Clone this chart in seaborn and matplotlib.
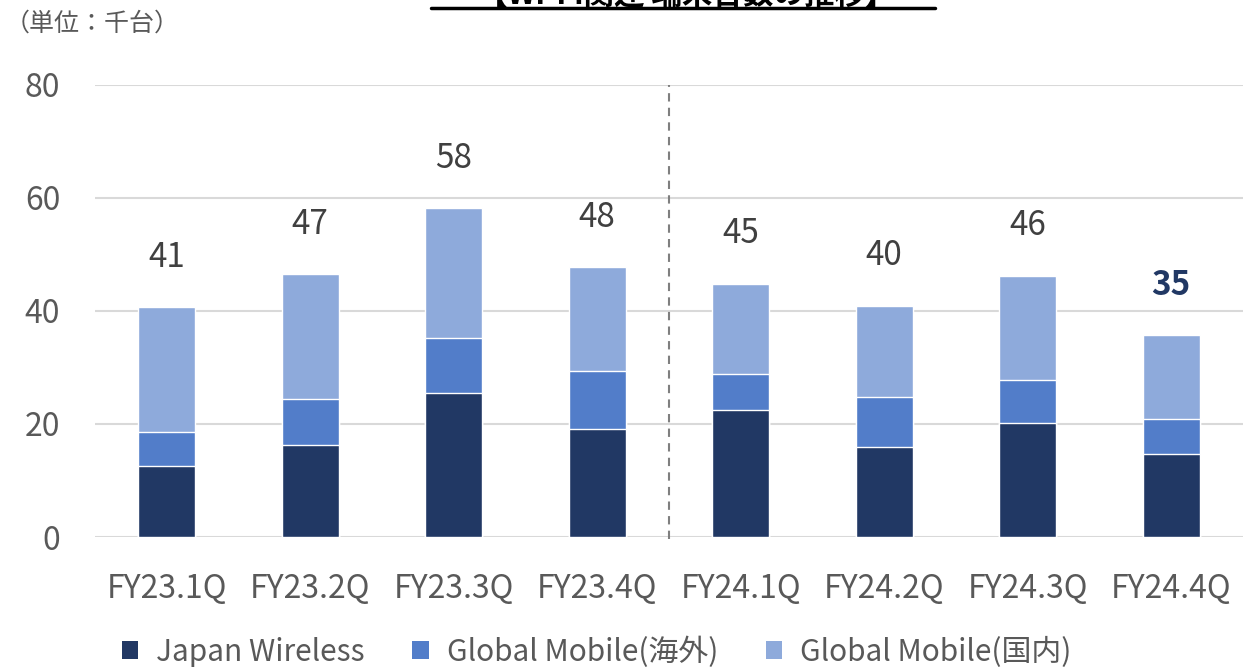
import numpy as np
import pandas as pd
import seaborn as sns
import matplotlib.pyplot as plt
from matplotlib.patches import Patch
from matplotlib.lines import Line2D

# data (thousand units)
quarters = ["FY23.1Q", "FY23.2Q", "FY23.3Q", "FY23.4Q", "FY24.1Q", "FY24.2Q", "FY24.3Q", "FY24.4Q"]
japan_wireless = [12.6, 16.2, 25.5, 19.2, 22.5, 16.0, 20.1, 14.7]
gm_overseas = [5.9, 8.3, 9.8, 10.1, 6.3, 8.8, 7.6, 6.2]
gm_domestic = [22.2, 22.0, 22.9, 18.4, 16.0, 16.1, 18.5, 14.8]
total_labels = ["41", "47", "58", "48", "45", "40", "46", "35"]
series_names = ["Japan Wireless", "Global Mobile(海外)", "Global Mobile(国内)"]

c_dark = "#213864"
c_mid = "#527DC9"
c_light = "#8EAADB"

df = pd.DataFrame({"q": quarters, "jw": japan_wireless, "gmo": gm_overseas, "gmd": gm_domestic})
df["lvl2"] = df["jw"] + df["gmo"]
df["lvl3"] = df["lvl2"] + df["gmd"]

sns.set_style("white")
plt.rcParams['font.family'] = ['Noto Sans CJK JP', 'DejaVu Sans']

fig = plt.figure(figsize=(12.43, 6.67), dpi=100)
ax = fig.add_axes([0.0764, 0.1949, 0.9236, 0.6777])

# stacked bars drawn as overlapping cumulative totals
sns.barplot(data=df, x="q", y="lvl3", color=c_light, saturation=1, width=0.4, ax=ax, zorder=3)
sns.barplot(data=df, x="q", y="lvl2", color=c_mid, saturation=1, width=0.4, ax=ax, zorder=3)
sns.barplot(data=df, x="q", y="jw", color=c_dark, saturation=1, width=0.4, ax=ax, zorder=3)

for i, (tot, lab) in enumerate(zip(df["lvl3"], total_labels)):
    last = i == len(total_labels) - 1
    ax.annotate(lab, (i, tot), xytext=(0, 36), textcoords="offset points",
                ha="center", va="center", fontsize=24,
                color=c_dark if last else "#404040",
                fontweight="bold" if last else "normal")

ax.set_ylim(0, 80)
ax.set_xlim(-0.5, 7.5)
ax.set_yticks([0, 20, 40, 60, 80])
ax.yaxis.grid(True, color="#D9D9D9", lw=1.5, zorder=0)
ax.set_axisbelow(True)
for s in ax.spines.values():
    s.set_visible(False)
ax.tick_params(axis="both", length=0, labelsize=23, colors="#595959")
ax.tick_params(axis="y", pad=25)
ax.tick_params(axis="x", pad=26)
ax.set_xlabel("")
ax.set_ylabel("")

# divider between fiscal years
ax.axvline(3.5, ymin=-0.005, ymax=1.0, color="#7F7F7F", lw=1.5, ls=(0, (4, 3)), clip_on=False, zorder=2)

# unit note
fig.text(0.004, 1 - 24 / 667, "（単位：千台）", fontsize=18, color="#595959", ha="left", va="center")

# title (cut off at the top edge, as in the source)
fig.text(0.552, 1 - 4 / 667, "【Wi-Fi関連 端末台数の推移】", fontsize=22, fontweight="bold",
         ha="center", va="baseline", color="black")
fig.add_artist(Line2D([431 / 1243, 935 / 1243], [1 - 8 / 667, 1 - 8 / 667], color="black", lw=2.5))

handles = [Patch(facecolor=c, edgecolor="none") for c in (c_dark, c_mid, c_light)]
leg = fig.legend(handles, series_names, loc="center", bbox_to_anchor=(0.48, 0.022), ncol=3,
                 frameon=False, fontsize=21.5, handlelength=0.55, handleheight=0.55,
                 columnspacing=1.6, handletextpad=0.6, borderpad=0)
for t in leg.get_texts():
    t.set_color("#595959")

fig.savefig("out.png", dpi=100)
